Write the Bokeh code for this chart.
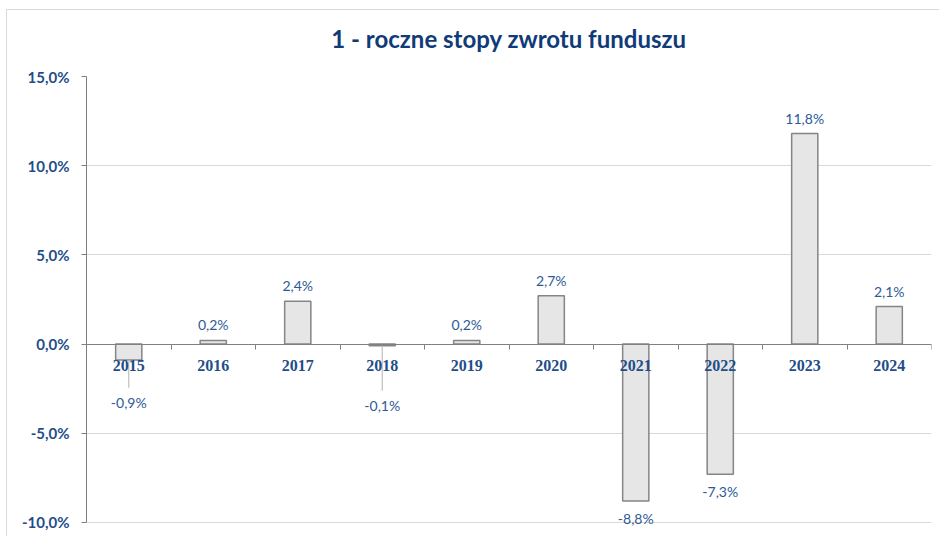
from bokeh.plotting import figure
from bokeh.models import ColumnDataSource, Range1d, LinearAxis, FixedTicker, Title, LabelSet
from bokeh.core.properties import value
from bokeh.embed import file_html
from bokeh.resources import INLINE

# ---- data ----
years = ["2015", "2016", "2017", "2018", "2019", "2020", "2021", "2022", "2023", "2024"]
returns = [-0.9, 0.2, 2.4, -0.1, 0.2, 2.7, -8.8, -7.3, 11.8, 2.1]
y_ticks = [-10, -5, 0, 5, 10, 15]
title_text = "1 - roczne stopy zwrotu funduszu"
# labels moved away from the category names (label position in data units)
moved_labels = {"2015": -2.8, "2018": -2.97}

def fmt(v):
    return f"{v:.1f}".replace(".", ",") + "%"

TITLE_C = "#0F3B78"
AXLBL_C = "#1F4E89"
VAL_C = "#2D5A96"

border_bg = ("linear-gradient(#DADADA, #DADADA) 6px 9px / 1px 100% no-repeat, "
             "linear-gradient(#DADADA, #DADADA) 6px 9px / 100% 1px no-repeat, white")

xs = [i + 0.5 for i in range(len(years))]
p = figure(width=939, height=536, x_range=Range1d(0, len(years)), y_range=Range1d(-10.4, 15),
           output_backend="svg", toolbar_location=None, x_axis_location=None, y_axis_location=None,
           min_border_left=86, min_border_right=8, min_border_top=76, min_border_bottom=7,
           styles={"background": border_bg})
p.outline_line_color = None
p.background_fill_color = "white"
p.border_fill_color = None

t = Title(text=title_text, align="center", vertical_align="top", text_font="Lato",
          text_font_size="24px", text_font_style="bold", text_color=TITLE_C, standoff=44)
p.add_layout(t, "above")

# y axis
yax = LinearAxis(ticker=FixedTicker(ticks=y_ticks), bounds=(min(y_ticks), max(y_ticks)),
                 major_label_overrides={tk: fmt(tk) for tk in y_ticks})
yax.axis_line_color = "#808080"
yax.major_tick_line_color = "#808080"
yax.major_tick_out = 5
yax.major_tick_in = 0
yax.minor_tick_line_color = None
yax.major_label_text_font = "Lato"
yax.major_label_text_font_size = "15px"
yax.major_label_text_font_style = "bold"
yax.major_label_text_color = AXLBL_C
yax.major_label_standoff = 12
p.add_layout(yax, "left")

# x axis at zero: labels at centres, ticks on boundaries
xax = LinearAxis(ticker=FixedTicker(ticks=xs, minor_ticks=list(range(len(years) + 1))),
                 major_label_overrides={x: y for x, y in zip(xs, years)}, fixed_location=0)
xax.axis_line_color = "#808080"
xax.major_tick_line_color = None
xax.major_tick_out = 0
xax.major_tick_in = 0
xax.minor_tick_line_color = "#808080"
xax.minor_tick_out = 5
xax.minor_tick_in = 0
xax.major_label_text_font = "Liberation Serif"
xax.major_label_text_font_size = "16px"
xax.major_label_text_font_style = "bold"
xax.major_label_text_color = AXLBL_C
xax.major_label_standoff = 11
p.add_layout(xax, "below")

p.ygrid.ticker = FixedTicker(ticks=y_ticks)
p.ygrid.grid_line_color = "#D9D9D9"
p.xgrid.grid_line_color = None
p.grid.level = "underlay"

src = ColumnDataSource(dict(x=xs, top=returns))
p.vbar(x="x", top="top", bottom=0, width=0.31, source=src, fill_color="#E6E6E6",
       line_color="#858585", line_width=1.5)

# value labels
pos = [i for i, v in enumerate(returns) if v >= 0]
neg = [i for i, v in enumerate(returns) if v < 0 and years[i] not in moved_labels]
mov = [i for i, v in enumerate(returns) if years[i] in moved_labels]

def labels(idx, ys, baseline, yoff):
    s = ColumnDataSource(dict(x=[xs[i] for i in idx], y=ys, t=[fmt(returns[i]) for i in idx]))
    return LabelSet(x="x", y="y", text="t", source=s, text_align="center",
                    text_baseline=baseline, y_offset=yoff, text_font=value("Lato"),
                    text_font_size=value("14px"), text_color=VAL_C)

p.add_layout(labels(pos, [returns[i] for i in pos], "bottom", 7))
p.add_layout(labels(neg, [returns[i] for i in neg], "top", -9))
p.segment(x0=[xs[i] for i in mov], y0=[returns[i] for i in mov],
          x1=[xs[i] for i in mov], y1=[moved_labels[years[i]] + 0.35 for i in mov],
          line_color="#BFBFBF", line_width=1.2)
p.add_layout(labels(mov, [moved_labels[years[i]] for i in mov], "top", 0))

open("out.html", "w").write(file_html(p, INLINE))
